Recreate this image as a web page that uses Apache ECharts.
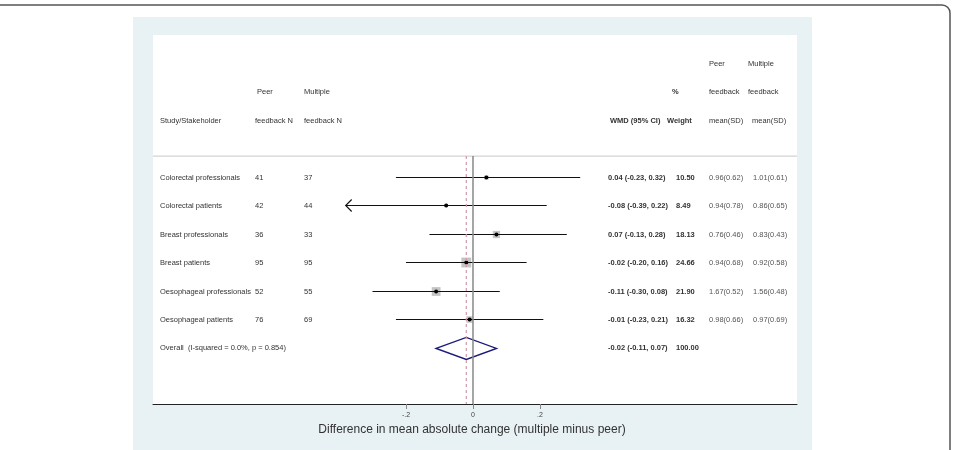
<!DOCTYPE html>
<html>
<head>
<meta charset="utf-8">
<script src="https://cdn.jsdelivr.net/npm/echarts@6/dist/echarts.min.js"></script>
<style>
  html,body{margin:0;padding:0;background:#fff;}
  #forest{width:955px;height:450px;}
</style>
</head>
<body>
<div id="forest"></div>
<script>
// rows of the forest plot
const studies = ['Colorectal professionals', 'Colorectal patients', 'Breast professionals', 'Breast patients', 'Oesophageal professionals', 'Oesophageal patients']
const peerN = [41, 42, 36, 95, 52, 76]
const multiN = [37, 44, 33, 95, 55, 69]
const wmd = [0.04, -0.08, 0.07, -0.02, -0.11, -0.01]
const ciLow = [-0.23, -0.39, -0.13, -0.20, -0.30, -0.23]
const ciHigh = [0.32, 0.22, 0.28, 0.16, 0.08, 0.21]
const weight = [10.50, 8.49, 18.13, 24.66, 21.90, 16.32]
const peerMean = ['0.96(0.62)', '0.94(0.78)', '0.76(0.46)', '0.94(0.68)', '1.67(0.52)', '0.98(0.66)']
const multiMean = ['1.01(0.61)', '0.86(0.65)', '0.83(0.43)', '0.92(0.58)', '1.56(0.48)', '0.97(0.69)']
const overall = { est: -0.02, lo: -0.11, hi: 0.07, label: 'Overall  (I-squared = 0.0%, p = 0.854)' }
const xTicks = [-0.2, 0, 0.2]
const xTickLabels = ['-.2', '0', '.2']

const clipMin = -0.38 // CI cut off here, arrow drawn

// column left edges (page px) and header rows
const col = { study: 160, peer: 255, multi: 304, wmd: 608, wt: 676, pm: 709, mm: 753 }
const headerCells = [
  [709, -4, 'Peer', false], [748, -4, 'Multiple', false],
  [257, -3, 'Peer', false], [304, -3, 'Multiple', false], [672, -3, '%', true], [709, -3, 'feedback', false], [748, -3, 'feedback', false],
  [160, -2, 'Study/Stakeholder', false], [255, -2, 'feedback N', false], [304, -2, 'feedback N', false],
  [610, -2, 'WMD (95% CI)', true], [667, -2, 'Weight', true], [709, -2, 'mean(SD)', false], [752, -2, 'mean(SD)', false]
]

const fmt = v => v.toFixed(2)
const cells = headerCells.slice()
studies.forEach((s, i) => {
  cells.push([col.study, i, s, false])
  cells.push([col.peer, i, String(peerN[i]), false])
  cells.push([col.multi, i, String(multiN[i]), false])
  cells.push([col.wmd, i, fmt(wmd[i]) + ' (' + fmt(ciLow[i]) + ', ' + fmt(ciHigh[i]) + ')', true])
  cells.push([col.wt, i, fmt(weight[i]), true])
  cells.push([col.pm, i, peerMean[i], false, '#555'])
  cells.push([col.mm, i, multiMean[i], false, '#555'])
})
const ovRow = studies.length
cells.push([col.study, ovRow, overall.label, false])
cells.push([col.wmd, ovRow, fmt(overall.est) + ' (' + fmt(overall.lo) + ', ' + fmt(overall.hi) + ')', true])
cells.push([col.wt, ovRow, '100.00', true])

const myChart = echarts.init(document.getElementById('forest'))

const gridL = 153, gridR = 797, gridT = 35, gridB = 404
const rowMin = -5, rowMax = 7.95
const crisp = v => Math.round(v - 0.5) + 0.5

const option = {
  animation: false,
  graphic: [
    { type: 'rect', z: -10, shape: { x: -10, y: 5, width: 960, height: 470, r: 8 }, style: { fill: '#fff', stroke: '#555', lineWidth: 1.5 } },
    { type: 'rect', z: -9, shape: { x: 133, y: 17, width: 679, height: 440 }, style: { fill: '#e8f1f3' } },
    { type: 'rect', z: -8, shape: { x: gridL, y: gridT, width: gridR - gridL, height: gridB - gridT }, style: { fill: '#fff' } }
  ],
  grid: { left: gridL, right: 955 - gridR, top: gridT, bottom: 450 - gridB },
  xAxis: [
    {
      type: 'value', min: -0.955, max: 0.967,
      splitLine: { show: false },
      axisLine: { onZero: false, lineStyle: { color: '#222', width: 1 } },
      axisTick: { customValues: xTicks, length: 5, lineStyle: { color: '#888' } },
      axisLabel: {
        customValues: xTicks, fontSize: 7, color: '#444', margin: 8, fontFamily: 'Liberation Sans',
        formatter: v => xTickLabels[xTicks.findIndex(t => Math.abs(t - v) < 1e-9)]
      },
      name: 'Difference in mean absolute change (multiple minus peer)',
      nameLocation: 'middle', nameGap: 19,
      nameTextStyle: { fontSize: 12, color: '#333', fontFamily: 'Liberation Sans', padding: [0, 6, 0, 0] }
    },
    { type: 'value', min: gridL, max: gridR, show: false }
  ],
  yAxis: { type: 'value', min: rowMin, max: rowMax, inverse: true, show: false },
  series: [
    { // separator under header
      type: 'line', xAxisIndex: 1, symbol: 'none', silent: true,
      data: [[gridL, -0.75], [gridR, -0.75]],
      lineStyle: { color: '#c8c8c8', width: 1 }
    },
    { // no-effect line
      type: 'line', symbol: 'none', silent: true,
      data: [[0, -0.75], [0, rowMax]],
      lineStyle: { color: '#888', width: 1.5 }
    },
    { // overall effect line
      type: 'line', symbol: 'none', silent: true,
      data: [[overall.est, -0.75], [overall.est, rowMax]],
      lineStyle: { color: '#cf9aa6', width: 1.2, type: [3, 3] }
    },
    {
      type: 'custom', silent: true,
      data: studies.map((s, i) => [wmd[i], ciLow[i], ciHigh[i], i, weight[i]]),
      renderItem: function (params, api) {
        const row = api.value(3)
        const p = api.coord([api.value(0), row])
        const lo = api.value(1)
        const clipped = lo < clipMin
        const a = api.coord([clipped ? clipMin : lo, row])
        const b = api.coord([api.value(2), row])
        const y = crisp(p[1])
        const sz = api.value(4) * 0.4
        const kids = [
          { type: 'rect', shape: { x: p[0] - sz / 2, y: y - sz / 2, width: sz, height: sz }, style: { fill: '#c4c4c4' } },
          { type: 'line', shape: { x1: a[0], y1: y, x2: b[0], y2: y }, style: { stroke: '#111', lineWidth: 1 } },
          { type: 'circle', shape: { cx: p[0], cy: y, r: 2 }, style: { fill: '#000' } }
        ]
        if (clipped) {
          kids.push({ type: 'polyline', shape: { points: [[a[0] + 6, y - 6], [a[0], y], [a[0] + 6, y + 6]] }, style: { stroke: '#111', lineWidth: 1.1, fill: 'none' } })
        }
        return { type: 'group', children: kids }
      }
    },
    { // pooled diamond
      type: 'custom', silent: true,
      data: [[overall.est, overall.lo, overall.hi, ovRow]],
      renderItem: function (params, api) {
        const row = api.value(3)
        const c = api.coord([api.value(0), row])
        const l = api.coord([api.value(1), row])
        const r = api.coord([api.value(2), row])
        const h = 11
        return {
          type: 'polygon',
          shape: { points: [[l[0], c[1]], [c[0], c[1] - h], [r[0], c[1]], [c[0], c[1] + h]] },
          style: { fill: '#fff', stroke: '#1a1a7a', lineWidth: 1.4 }
        }
      }
    },
    { // table text
      type: 'custom', xAxisIndex: 1, silent: true,
      data: cells.map(c => [c[0], c[1]]),
      renderItem: function (params, api) {
        const cell = cells[params.dataIndex]
        const pt = api.coord([api.value(0), api.value(1)])
        return {
          type: 'text', x: pt[0], y: pt[1],
          style: {
            text: cell[2], fill: cell[4] || '#333',
            font: (cell[3] ? 'bold ' : '') + '7.5px "Liberation Sans", Arial, sans-serif',
            textAlign: 'left', textVerticalAlign: 'middle'
          }
        }
      }
    }
  ]
}
myChart.setOption(option)
</script>
</body>
</html>
